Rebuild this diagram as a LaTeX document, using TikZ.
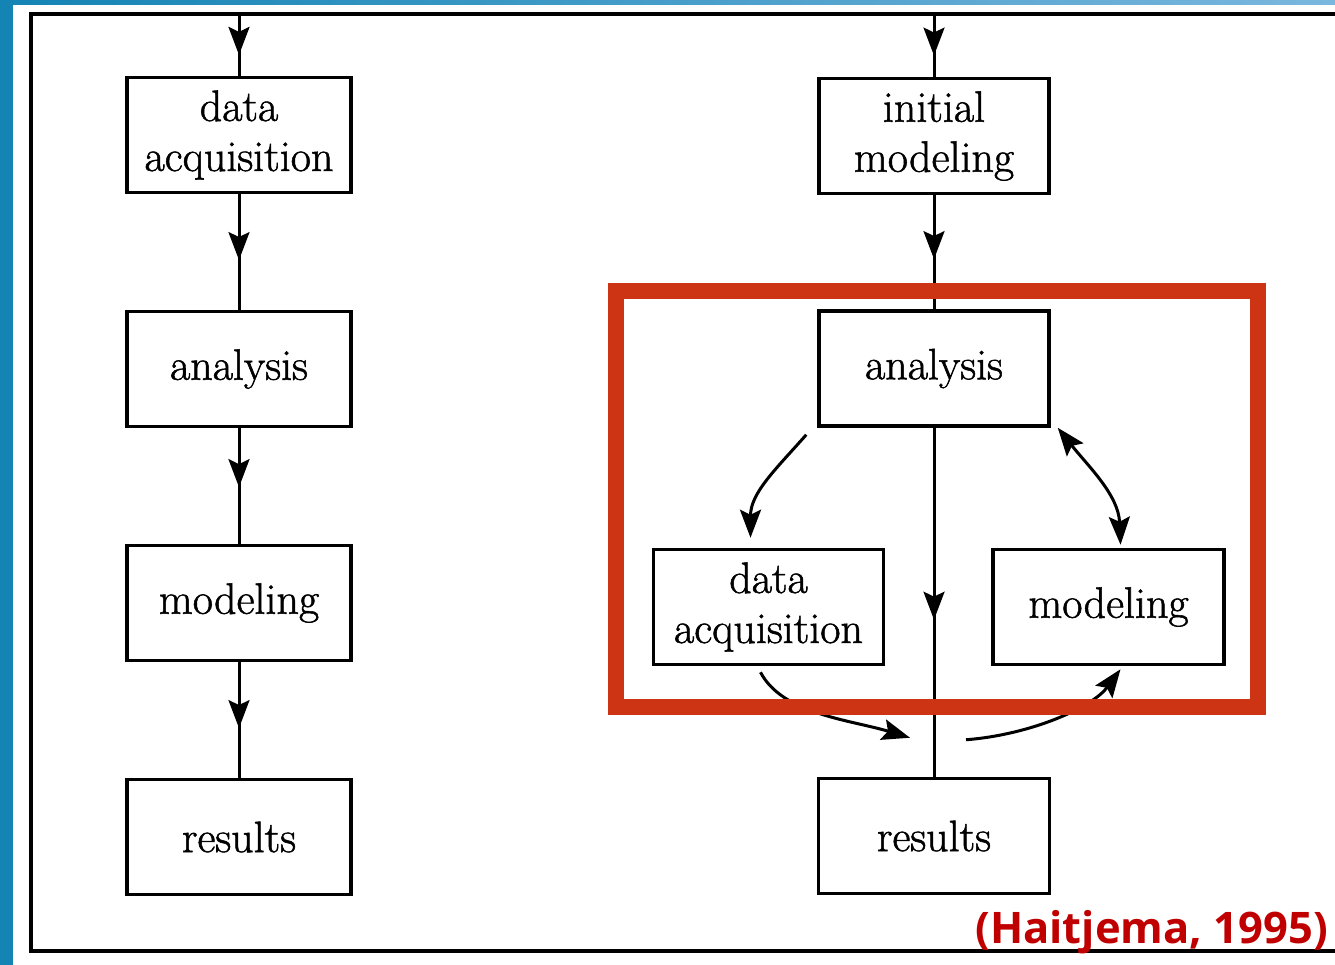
\documentclass[tikz,border=0pt]{standalone}
\usepackage{fontspec}
\newfontfamily\citefont{Open Sans}
\newfontfamily\boxfont{Latin Modern Roman}[FakeBold=1.2]
\usepackage{tikz}
\usetikzlibrary{arrows.meta, positioning, calc, decorations.markings}
\definecolor{bandblue}{RGB}{20,132,180}
\definecolor{bandlight}{RGB}{122,183,222}
\definecolor{markred}{RGB}{205,52,20}
\definecolor{citered}{RGB}{192,0,0}

\begin{document}
\begin{tikzpicture}[
    x=1pt, y=-1pt,
    every node/.style={font=\boxfont\fontsize{44}{50}\selectfont, align=center},
    procbox/.style={rectangle, draw=black, line width=3.5pt, minimum width=224pt, minimum height=115pt, inner sep=4pt},
    conn/.style={line width=3pt},
    midarrow/.style={conn, postaction={decorate}, decoration={markings, mark=at position #1 with {\arrow{Stealth[length=28pt, width=21pt, inset=5pt]}}}},
    arrow/.style={conn, -{Stealth[length=28pt, width=21pt, inset=5pt]}},
    dblarrow/.style={conn, {Stealth[length=28pt, width=21pt, inset=5pt]}-{Stealth[length=28pt, width=21pt, inset=5pt]}},
    node distance=115.5pt
]
\useasboundingbox (0,0) rectangle (1335,965);
\fill[white] (0,0) rectangle (1335,965);

% slide border and frame
\fill[bandblue] (0,0) rectangle (13,965);
\shade[left color=bandblue, right color=bandlight] (0,0) rectangle (1335,5);
\draw[line width=4pt] (1335,14.5) -- (31,14.5) -- (31,951) -- (1335,951);

% Left column: sequential approach
\node[procbox] (acq1) at (239,135) {data\\acquisition};
\node[procbox, below=of acq1] (ana1) {analysis};
\node[procbox, below=of ana1] (mod1) {modeling};
\node[procbox, below=of mod1] (res1) {results};

% Right column: modeling first, then iterating
\node[procbox, minimum width=230pt] (init2) at (934,136) {initial\\modeling};
\node[procbox, minimum width=230pt, below=114pt of init2] (ana2) {analysis};
\node[procbox, minimum width=230pt, below=120pt of ana2, xshift=-165.5pt] (acq2) {data\\acquisition};
\node[procbox, minimum width=231pt, below=120pt of ana2, xshift=174.5pt] (mod2) {modeling};
\node[procbox, minimum width=231pt, below=349pt of ana2] (res2) {results};

\coordinate (frametop) at (0,14.5);
\coordinate (in1) at (acq1.north |- frametop);
\coordinate (in2) at (init2.north |- frametop);
\coordinate (gapL) at ($(res2.north)+(-24,-39)$);
\coordinate (gapR) at ($(res2.north)+(32,-37)$);

% Connectors
\draw[midarrow=0.66] (in1) -- (acq1.north);
\draw[midarrow=0.57] (acq1.south) -- (ana1.north);
\draw[midarrow=0.51] (ana1.south) -- (mod1.north);
\draw[midarrow=0.57] (mod1.south) -- (res1.north);

\draw[midarrow=0.66] (in2) -- (init2.north);
\draw[midarrow=0.56] (init2.south) -- (ana2.north);
\draw[midarrow=0.55] (ana2.south) -- (res2.north);
\draw[arrow] ($(ana2.south west)+(-11,7)$) .. controls +(-30,34) and +(0,-45) .. ($(acq2.north)+(-18,-10)$);
\draw[dblarrow] ($(ana2.south east)+(7,0)$) .. controls +(30,38) and +(-2,-50) .. ($(mod2.north)+(12,-3)$);
\draw[arrow] ($(acq2.south)+(-8,6)$) .. controls +(22,42) and +(-60,-18) .. (gapL);
\draw[arrow] (gapR) .. controls +(65,-5) and +(-28,38) .. ($(mod2.south)+(12,3)$);

% highlight and source
\draw[markred, line width=15.5pt] (616,291) rectangle (1258,707);
\node[font=\citefont\bfseries\fontsize{43.5}{52}\selectfont, text=citered, anchor=base east, inner sep=0pt] (src) at (1328,943) {(Haitjema, 1995)};

\end{tikzpicture}
\end{document}
